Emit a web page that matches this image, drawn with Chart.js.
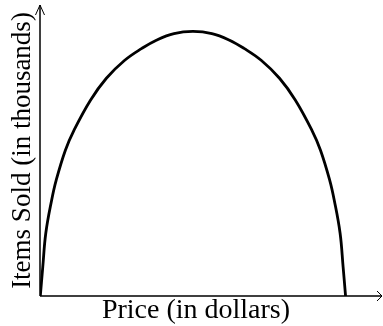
<!DOCTYPE html>
<html>
<head>
<meta charset="utf-8">
<script src="https://cdn.jsdelivr.net/npm/chart.js@4.4.0/dist/chart.umd.min.js"></script>
<style>
  html, body { margin: 0; padding: 0; background: #fff; }
  #wrap { width: 383px; height: 326px; }
</style>
</head>
<body>
<div id="wrap"><canvas id="myChart"></canvas></div>
<script>
// Price (x) and items sold (y)
const prices = [0.1, 0.9, 1.9, 3.8, 5.3, 8.3, 11.1, 16.5, 21.7, 27.7, 33.3, 38.2, 43.8, 50,
  56.2, 61.8, 66.7, 72.3, 78.3, 83.5, 88.9, 91.7, 94.7, 96.2, 98.1, 99.1, 99.9];
const itemsSold = [0, 10.9, 23.8, 36.2, 43.8, 55.1, 62.6, 74.0, 82.3, 89.1, 93.6, 96.8, 99.2, 100,
  99.2, 96.8, 93.6, 89.1, 82.3, 74.0, 62.6, 55.1, 43.8, 36.2, 23.8, 10.9, 0];

const xTitle = "Price (in dollars)";
const yTitle = "Items Sold (in thousands)";

const points = prices.map((p, i) => ({ x: p, y: itemsSold[i] }));

// draws both axes with open arrowheads (x axis runs past the chart area)
const arrowAxes = {
  id: "arrowAxes",
  beforeDatasetsDraw(chart) {
    const ctx = chart.ctx;
    const x0 = chart.scales.x.getPixelForValue(0);
    const y0 = chart.scales.y.getPixelForValue(0);
    const top = chart.chartArea.top;
    const right = chart.width - 1;
    ctx.save();
    ctx.strokeStyle = "#000";
    ctx.lineWidth = 1.5;
    ctx.beginPath();
    ctx.moveTo(x0, y0);
    ctx.lineTo(x0, top);
    ctx.moveTo(x0, y0);
    ctx.lineTo(right, y0);
    ctx.stroke();
    ctx.lineWidth = 1;
    ctx.beginPath();
    ctx.moveTo(x0 - 4.5, top + 10);
    ctx.lineTo(x0, top);
    ctx.lineTo(x0 + 4.5, top + 10);
    ctx.moveTo(right - 5, y0 - 5);
    ctx.lineTo(right, y0);
    ctx.lineTo(right - 5, y0 + 5);
    ctx.stroke();
    ctx.restore();
  },
};

const canvas = document.getElementById("myChart").getContext("2d");

const myChart = new Chart(canvas, {
  type: "line",
  data: {
    datasets: [
      {
        data: points,
        borderColor: "#000",
        borderWidth: 2.8,
        pointRadius: 0,
        fill: false,
        tension: 0.4,
      },
    ],
  },
  options: {
    responsive: true,
    maintainAspectRatio: false,
    animation: false,
    layout: { padding: { left: 7, top: 5, right: 31, bottom: 0 } },
    plugins: { legend: { display: false }, tooltip: { enabled: false } },
    scales: {
      x: {
        type: "linear",
        min: 0,
        max: 102,
        grid: { display: false, drawTicks: false },
        border: { display: false },
        ticks: { display: false },
        title: {
          display: true,
          text: xTitle,
          color: "#000",
          font: { family: "Liberation Serif", size: 28, lineHeight: 1 },
          padding: { top: 1, bottom: 1 },
        },
      },
      y: {
        type: "linear",
        min: 0,
        max: 110,
        grid: { display: false, drawTicks: false },
        border: { display: false },
        ticks: { display: false },
        title: {
          display: true,
          text: yTitle,
          color: "#000",
          font: { family: "Liberation Serif", size: 27, lineHeight: 1 },
          padding: { top: 2, bottom: 4 },
        },
      },
    },
  },
  plugins: [arrowAxes],
});
</script>
</body>
</html>
